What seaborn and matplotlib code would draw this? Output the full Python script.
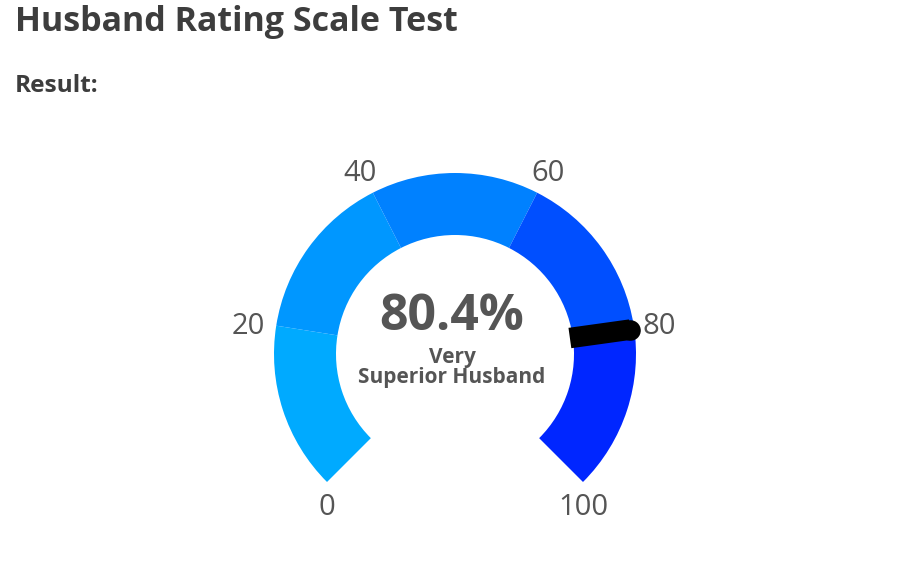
import numpy as np
import matplotlib
matplotlib.use("Agg")
import matplotlib.pyplot as plt
import seaborn as sns

# ---- data ----
segment_starts = [0, 20, 40, 60, 80]
segment_ends = [20, 40, 60, 80, 100]
segment_colors = ["#00AAFF", "#0097FF", "#0081FF", "#004FFF", "#0026FF"]
tick_values = [0, 20, 40, 60, 80, 100]
tick_labels = ["0", "20", "40", "60", "80", "100"]
score = 80.4
score_label = "80.4%"
category_lines = ["Very", "Superior Husband"]
title = "Husband Rating Scale Test"
subtitle = "Result:"

sns.set_theme(style="white")
plt.rcParams["font.family"] = ["Open Sans", "DejaVu Sans"]

W, H = 904, 576
DPI = 100
fig = plt.figure(figsize=(W / DPI, H / DPI), dpi=DPI)
fig.patch.set_facecolor("white")

# gauge geometry (pixels)
cx, cy = 455, 354
RMAX = 230
R_IN, R_OUT = 119, 181
SWEEP = 270.0

ax = fig.add_axes([(cx - RMAX) / W, (H - cy - RMAX) / H, 2 * RMAX / W, 2 * RMAX / H],
                  projection="polar")
ax.set_theta_offset(np.radians(225))
ax.set_theta_direction(-1)
ax.set_ylim(0, RMAX)
ax.set_axis_off()


def theta(v):
    return np.radians(v / 100.0 * SWEEP)


starts = np.array(segment_starts, dtype=float)
ends = np.array(segment_ends, dtype=float)
ax.bar(theta(starts), R_OUT - R_IN, width=theta(ends) - theta(starts), bottom=R_IN,
       align="edge", color=segment_colors, edgecolor="none", linewidth=0)

# needle
t = theta(score)
NW = 14.8
ax.plot([t, t], [116, 177], color="black", lw=NW, solid_capstyle="butt", zorder=5)
ax.scatter([t], [177], s=NW ** 2, color="black", zorder=5, linewidths=0)

# tick labels
label_color = "#555555"
px = 72 / DPI
for v, lab in zip(tick_values, tick_labels):
    if v in (tick_values[0], tick_values[-1]):
        ax.annotate(lab, xy=(theta(v), R_OUT), xytext=(0, -26 * px),
                    textcoords="offset points", ha="center", va="center",
                    fontsize=21, color=label_color)
    else:
        ax.annotate(lab, xy=(theta(v), 208), xytext=(-1 * px, -5 * px),
                    textcoords="offset points", ha="center", va="center",
                    fontsize=21, color=label_color)

# center texts
fig.text(452 / W, 1 - 317 / H, score_label, ha="center", va="center",
         fontsize=36, fontweight="bold", color="#555555")
fig.text(452 / W, 1 - 358 / H, category_lines[0], ha="center", va="center",
         fontsize=15, fontweight="bold", color="#555555")
fig.text(452 / W, 1 - 378 / H, category_lines[1], ha="center", va="center",
         fontsize=15, fontweight="bold", color="#555555")

# title and subtitle, fitted to the reference widths
renderer = fig.canvas.get_renderer()


def fitted_text(x, y, s, target_w, size):
    txt = fig.text(x / W, 1 - y / H, s, ha="left", va="baseline", fontsize=size,
                   fontweight="bold", color="#3d3d3d")
    w = txt.get_window_extent(renderer=renderer).width
    txt.set_fontsize(size * target_w / w)
    return txt


fitted_text(15, 31, title, 443, 22)
fitted_text(15, 92, subtitle, 84, 15)

fig.savefig("out.png", dpi=DPI, facecolor="white")
